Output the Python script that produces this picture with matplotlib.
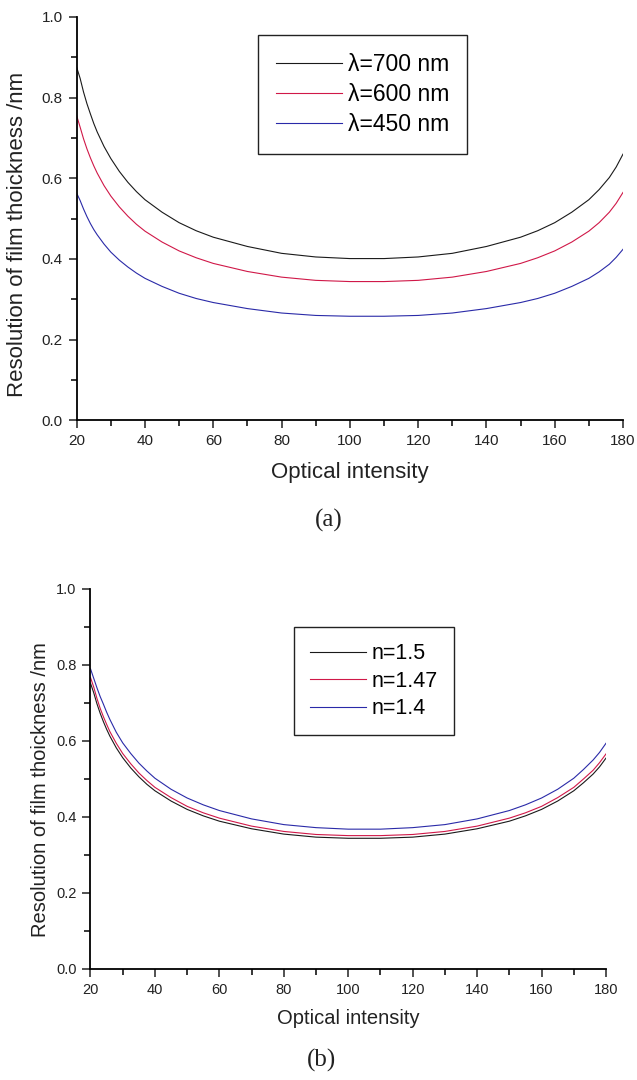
import matplotlib
matplotlib.use("Agg")
import matplotlib.pyplot as plt
from matplotlib.ticker import MultipleLocator

plt.rcParams['font.family'] = ['Liberation Sans', 'DejaVu Sans']

# Datos
intensidad = [20, 21, 22, 23, 24, 25, 26, 28, 30, 32.5, 35, 37.5, 40, 45, 50, 55, 60, 70, 80,
              90, 100, 110, 120, 130, 140, 150, 155, 160, 165, 170, 173, 176, 178, 180]

# (a) distintas longitudes de onda
res_700 = [0.875, 0.848, 0.814, 0.785, 0.760, 0.736, 0.715, 0.679, 0.649, 0.617, 0.590, 0.567,
           0.547, 0.516, 0.490, 0.470, 0.454, 0.431, 0.414, 0.405, 0.401, 0.401, 0.405, 0.414,
           0.431, 0.454, 0.470, 0.490, 0.516, 0.547, 0.572, 0.602, 0.628, 0.660]
res_600 = [0.755, 0.727, 0.698, 0.673, 0.651, 0.631, 0.613, 0.582, 0.556, 0.529, 0.506, 0.486,
           0.469, 0.442, 0.420, 0.403, 0.389, 0.369, 0.355, 0.347, 0.344, 0.344, 0.347, 0.355,
           0.369, 0.389, 0.403, 0.420, 0.442, 0.469, 0.490, 0.516, 0.538, 0.565]
res_450 = [0.563, 0.545, 0.524, 0.505, 0.488, 0.473, 0.460, 0.437, 0.417, 0.397, 0.380, 0.365,
           0.352, 0.332, 0.315, 0.302, 0.292, 0.277, 0.266, 0.260, 0.258, 0.258, 0.260, 0.266,
           0.277, 0.292, 0.302, 0.315, 0.332, 0.352, 0.368, 0.387, 0.404, 0.424]
etiquetas_a = ["λ=700 nm", "λ=600 nm", "λ=450 nm"]

# (b) distintos indices de refraccion
res_n150 = [0.752, 0.727, 0.698, 0.673, 0.651, 0.631, 0.613, 0.582, 0.556, 0.529, 0.506, 0.486,
            0.469, 0.442, 0.420, 0.403, 0.389, 0.369, 0.355, 0.347, 0.344, 0.344, 0.347, 0.355,
            0.369, 0.389, 0.403, 0.420, 0.442, 0.469, 0.490, 0.513, 0.532, 0.555]
res_n147 = [0.767, 0.742, 0.712, 0.686, 0.664, 0.644, 0.625, 0.594, 0.567, 0.540, 0.516, 0.496,
            0.478, 0.451, 0.428, 0.411, 0.397, 0.376, 0.362, 0.354, 0.351, 0.351, 0.354, 0.362,
            0.376, 0.397, 0.411, 0.428, 0.451, 0.478, 0.500, 0.523, 0.543, 0.566]
res_n140 = [0.790, 0.765, 0.740, 0.717, 0.697, 0.676, 0.657, 0.623, 0.595, 0.567, 0.542, 0.521,
            0.502, 0.473, 0.450, 0.432, 0.417, 0.395, 0.380, 0.372, 0.368, 0.368, 0.372, 0.380,
            0.395, 0.417, 0.432, 0.450, 0.473, 0.502, 0.525, 0.550, 0.570, 0.594]
etiquetas_b = ["n=1.5", "n=1.47", "n=1.4"]

colores = ["#1a1a1a", "#d01848", "#2a2aa8"]

W, H = 637, 1080


def preparar_ejes(ax, tam_ticks):
    ax.set_xlim(20, 180)
    ax.set_ylim(0, 1.0)
    ax.spines['top'].set_visible(False)
    ax.spines['right'].set_visible(False)
    ax.spines['left'].set_linewidth(1.3)
    ax.spines['bottom'].set_linewidth(1.3)
    ax.xaxis.set_major_locator(MultipleLocator(20))
    ax.xaxis.set_minor_locator(MultipleLocator(10))
    ax.yaxis.set_major_locator(MultipleLocator(0.2))
    ax.yaxis.set_minor_locator(MultipleLocator(0.1))
    ax.yaxis.set_major_formatter(plt.FormatStrFormatter('%.1f'))
    ax.tick_params(which='major', direction='out', length=6, width=1.1, pad=4,
                   labelsize=tam_ticks, colors='#222222')
    ax.tick_params(which='minor', direction='out', length=4, width=1.1)


def grafica(fig, caja, series, etiquetas, leyenda_xy, tam_leyenda, ley_opts, tam_ejes, tam_ticks,
            ylabel_xy, xlabel_y, letra, letra_xy):
    ax = fig.add_axes(caja)
    for datos, color, etiqueta in zip(series, colores, etiquetas):
        ax.plot(intensidad, datos, color=color, linewidth=0.8, label=etiqueta)
    preparar_ejes(ax, tam_ticks)
    leg = ax.legend(loc='upper left', bbox_to_anchor=leyenda_xy, bbox_transform=fig.transFigure,
                    fontsize=tam_leyenda, frameon=True, fancybox=False, framealpha=1,
                    edgecolor='#222222', handletextpad=0.25, borderaxespad=0, **ley_opts)
    leg.get_frame().set_linewidth(1.0)
    fig.text(ylabel_xy[0] / W, 1 - ylabel_xy[1] / H, "Resolution of film thoickness /nm",
             rotation=90, ha='center', va='center', fontsize=tam_ejes, color='#222222')
    centro = (caja[0] + caja[2] / 2)
    fig.text(centro, 1 - xlabel_y / H, "Optical intensity", ha='center', va='center',
             fontsize=tam_ejes, color='#222222')
    fig.text(letra_xy[0] / W, 1 - letra_xy[1] / H, letra, ha='center', va='center',
             fontsize=18, family='Liberation Serif', color='#222222')
    return ax


fig = plt.figure(figsize=(W / 100, H / 100), dpi=100)

grafica(fig, [76.7 / W, 1 - 420.3 / H, (623 - 76.7) / W, 403.3 / H],
        [res_700, res_600, res_450], etiquetas_a, (258 / W, 1 - 35 / H),
        16.5, dict(handlelength=2.9, borderpad=0.78, labelspacing=0.3),
        16, 11, (18, 234), 473, "(a)", (329, 520))

grafica(fig, [90.5 / W, 1 - 969 / H, (606 - 90.5) / W, 380 / H],
        [res_n150, res_n147, res_n140], etiquetas_b, (294 / W, 1 - 627 / H),
        15.5, dict(handlelength=2.6, borderpad=0.75, labelspacing=0.3),
        14.5, 10.5, (41, 790), 1018, "(b)", (322, 1060))

fig.savefig("out.png", dpi=100, facecolor='white')
